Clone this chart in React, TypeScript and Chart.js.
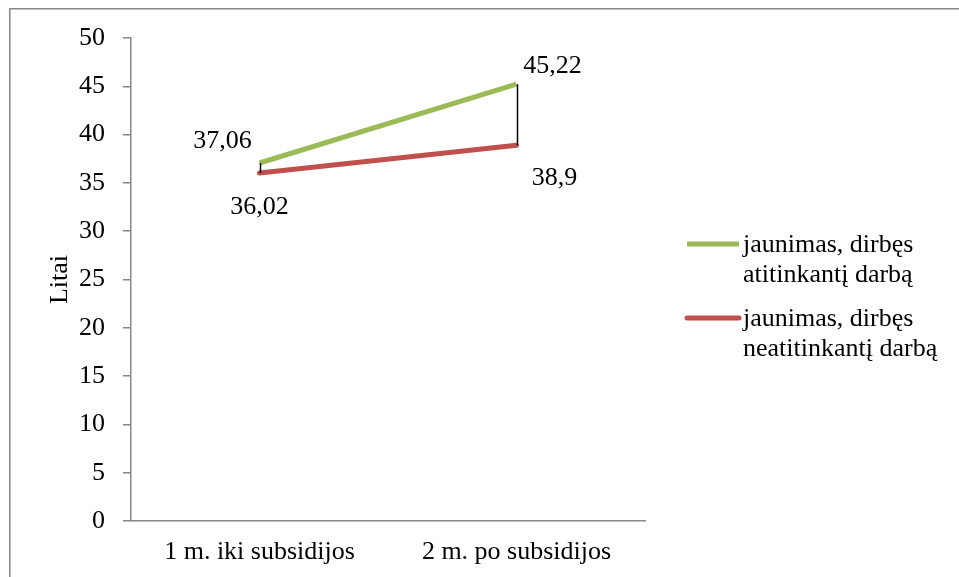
import React, { useEffect, useRef } from "react";
import { Chart, registerables } from "chart.js";

Chart.register(...registerables);

const categories = ["1 m. iki subsidijos", "2 m. po subsidijos"];
const seriesNames = ["jaunimas, dirbęs atitinkantį darbą", "jaunimas, dirbęs neatitinkantį darbą"];
const legendLines = [
  ["jaunimas, dirbęs", "atitinkantį darbą"],
  ["jaunimas, dirbęs", "neatitinkantį darbą"],
];
const matchingJob = [37.06, 45.22];
const nonMatchingJob = [36.02, 38.9];
const yTitle = "Litai";
const yMin = 0;
const yMax = 50;
const yStep = 5;

const COLORS = ["#9BBB59", "#C0504D"];
const FONT = "'Liberation Serif', 'Times New Roman', serif";
// label offsets (px) relative to each point: [dataset][point]
const LABEL_OFFSETS = [
  [[-37, -22], [36, -18]],
  [[0, 34], [38, 33]],
];

const fmt = (v: number) => String(v).replace(".", ",");

const decorPlugin = {
  id: "decor",
  beforeDraw(chart: any) {
    const ctx = chart.ctx;
    ctx.save();
    ctx.fillStyle = "#ffffff";
    ctx.fillRect(0, 0, chart.width, chart.height);
    ctx.strokeStyle = "#878787";
    ctx.lineWidth = 1.5;
    ctx.strokeRect(9.75, 8.75, chart.width + 20, chart.height + 20);
    ctx.restore();
  },
  afterDatasetsDraw(chart: any) {
    const ctx = chart.ctx;
    const m0 = chart.getDatasetMeta(0);
    const m1 = chart.getDatasetMeta(1);
    ctx.save();
    // high-low lines
    ctx.strokeStyle = "#000000";
    ctx.lineWidth = 1.5;
    for (let i = 0; i < m0.data.length; i++) {
      const a = m0.data[i];
      const b = m1.data[i];
      ctx.beginPath();
      ctx.moveTo(Math.round(a.x) + 0.5, a.y);
      ctx.lineTo(Math.round(a.x) + 0.5, b.y);
      ctx.stroke();
    }
    // data labels
    ctx.fillStyle = "#000000";
    ctx.font = `26px ${FONT}`;
    ctx.textAlign = "center";
    ctx.textBaseline = "middle";
    chart.data.datasets.forEach((ds: any, di: number) => {
      const meta = chart.getDatasetMeta(di);
      meta.data.forEach((pt: any, pi: number) => {
        const off = LABEL_OFFSETS[di][pi];
        ctx.fillText(fmt(ds.data[pi]), pt.x + off[0], pt.y + off[1]);
      });
    });
    // legend
    const lx0 = 687;
    const lx1 = 739;
    const tx = 743;
    const rowY = [244, 318];
    ctx.textAlign = "left";
    chart.data.datasets.forEach((ds: any, di: number) => {
      const y = rowY[di];
      ctx.strokeStyle = ds.borderColor;
      ctx.lineWidth = 5;
      ctx.lineCap = ds.borderCapStyle;
      ctx.beginPath();
      ctx.moveTo(lx0, y);
      ctx.lineTo(lx1, y);
      ctx.stroke();
      legendLines[di].forEach((line, li) => {
        ctx.fillText(line, tx, y + 1 + li * 30);
      });
    });
    ctx.restore();
  },
};

export default function App() {
  const ref = useRef<HTMLCanvasElement>(null);
  useEffect(() => {
    const chart = new Chart(ref.current as HTMLCanvasElement, {
      type: "line",
      data: {
        labels: categories,
        datasets: [
          {
            label: seriesNames[0],
            data: matchingJob,
            borderColor: COLORS[0],
            backgroundColor: COLORS[0],
            borderWidth: 5,
            borderCapStyle: "butt",
            pointRadius: 0,
            tension: 0,
          },
          {
            label: seriesNames[1],
            data: nonMatchingJob,
            borderColor: COLORS[1],
            backgroundColor: COLORS[1],
            borderWidth: 5,
            borderCapStyle: "round",
            pointRadius: 0,
            tension: 0,
          },
        ],
      },
      options: {
        animation: false,
        responsive: false,
        maintainAspectRatio: false,
        layout: { padding: { left: 0, top: 38, right: 314, bottom: 0 } },
        plugins: {
          legend: { display: false },
          tooltip: { enabled: false },
        },
        scales: {
          x: {
            type: "category",
            offset: true,
            grid: { display: false, drawTicks: false },
            border: { display: true, color: "#878787", width: 1.5 },
            ticks: { color: "#000", font: { family: FONT, size: 26 }, padding: 16, maxRotation: 0 },
            afterFit: (s: any) => {
              s.height = 56;
            },
          },
          y: {
            min: yMin,
            max: yMax,
            ticks: { stepSize: yStep, color: "#000", font: { family: FONT, size: 26 }, padding: 18 },
            grid: {
              display: true,
              drawOnChartArea: false,
              drawTicks: true,
              tickLength: 8,
              color: "#878787",
              lineWidth: 1.5,
            },
            border: { display: true, color: "#878787", width: 1.5 },
            title: {
              display: true,
              text: yTitle,
              color: "#000",
              font: { family: FONT, size: 26 },
              padding: { top: 45, bottom: 0 },
            },
            afterFit: (s: any) => {
              s.width = 131;
            },
          },
        },
      },
      plugins: [decorPlugin],
    } as any);
    return () => chart.destroy();
  }, []);
  return (
    <div style={{ position: "absolute", left: 0, top: 0, width: 959, height: 577 }}>
      <canvas ref={ref} width={959} height={577} style={{ display: "block" }} />
    </div>
  );
}
